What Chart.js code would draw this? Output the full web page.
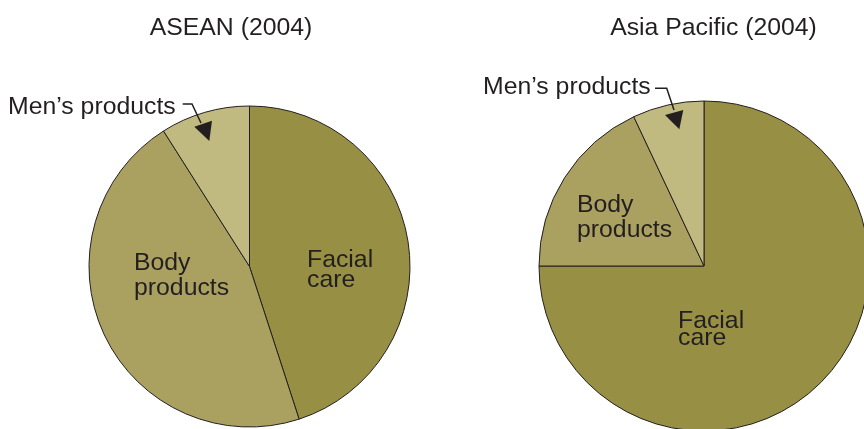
<!DOCTYPE html>
<html>
<head>
<meta charset="utf-8">
<script src="https://cdn.jsdelivr.net/npm/chart.js@4.4.1/dist/chart.umd.min.js"></script>
<style>
  html, body { margin: 0; padding: 0; background: #fff; width: 864px; height: 429px; overflow: hidden; }
  .box { position: absolute; left: 0; top: 0; width: 880px; height: 440px; }
</style>
</head>
<body>
<div class="box"><canvas id="pieAsean"></canvas></div>
<div class="box"><canvas id="piePacific"></canvas></div>
<script>
// categories and shares (%)
const categories = ["Facial care", "Body products", "Men's products"];
const aseanValues = [45, 46, 9];
const pacificValues = [75, 18, 7];
const titles = ["ASEAN (2004)", "Asia Pacific (2004)"];

const colors = ["#978F43", "#AAA161", "#C1BA80"];
const ink = "#231F20";
const font = "24.8px 'Liberation Sans', Arial, sans-serif";

function arrow(ctx, line, head) {
  ctx.strokeStyle = ink;
  ctx.lineWidth = 1.5;
  ctx.beginPath();
  ctx.moveTo(line[0][0], line[0][1]);
  for (let i = 1; i < line.length; i++) ctx.lineTo(line[i][0], line[i][1]);
  ctx.stroke();
  ctx.fillStyle = ink;
  ctx.beginPath();
  ctx.moveTo(head[0][0], head[0][1]);
  ctx.lineTo(head[1][0], head[1][1]);
  ctx.lineTo(head[2][0], head[2][1]);
  ctx.closePath();
  ctx.fill();
}

// labels, title and arrow drawn on top of the pie
const annotate = {
  id: "annotate",
  afterDraw(chart, args, opts) {
    const ctx = chart.ctx;
    ctx.save();
    ctx.font = font;
    ctx.fillStyle = ink;
    ctx.textBaseline = "alphabetic";
    ctx.textAlign = "center";
    ctx.fillText(opts.title[0], opts.title[1], opts.title[2]);
    ctx.textAlign = "left";
    opts.texts.forEach(t => ctx.fillText(t[0], t[1], t[2]));
    arrow(ctx, opts.line, opts.head);
    ctx.restore();
  }
};

function makePie(id, values, padding, notes) {
  new Chart(document.getElementById(id), {
    type: "pie",
    data: {
      labels: categories,
      datasets: [{
        data: values,
        backgroundColor: colors,
        borderColor: ink,
        borderWidth: 1
      }]
    },
    options: {
      responsive: false,
      animation: false,
      layout: { padding: padding },
      plugins: {
        legend: { display: false },
        tooltip: { enabled: false },
        annotate: notes
      }
    },
    plugins: [annotate]
  });
}

["pieAsean", "piePacific"].forEach(id => {
  const c = document.getElementById(id);
  c.width = 880; c.height = 440;
});

makePie("pieAsean", aseanValues,
  { left: 88.5, top: 105.5, right: 469.5, bottom: 12.5 },
  {
    title: [titles[0], 231, 35],
    texts: [["Men\u2019s products", 8, 114], ["Body", 134, 270], ["products", 134, 295],
            ["Facial", 307, 267], ["care", 307, 287]],
    line: [[182.7, 104], [192, 104], [201, 123]],
    head: [[194.3, 126.7], [212, 120.7], [209.3, 141]]
  });

makePie("piePacific", pacificValues,
  { left: 538.5, top: 100.5, right: 10.5, bottom: 8.5 },
  {
    title: [titles[1], 713.5, 35],
    texts: [["Men\u2019s products", 483, 94], ["Body", 577, 212], ["products", 577, 237],
            ["Facial", 678, 328], ["care", 678, 345]],
    line: [[655, 88.3], [666.7, 88.3], [674, 110]],
    head: [[665, 115], [683.3, 110], [679.3, 129.3]]
  });
</script>
</body>
</html>
